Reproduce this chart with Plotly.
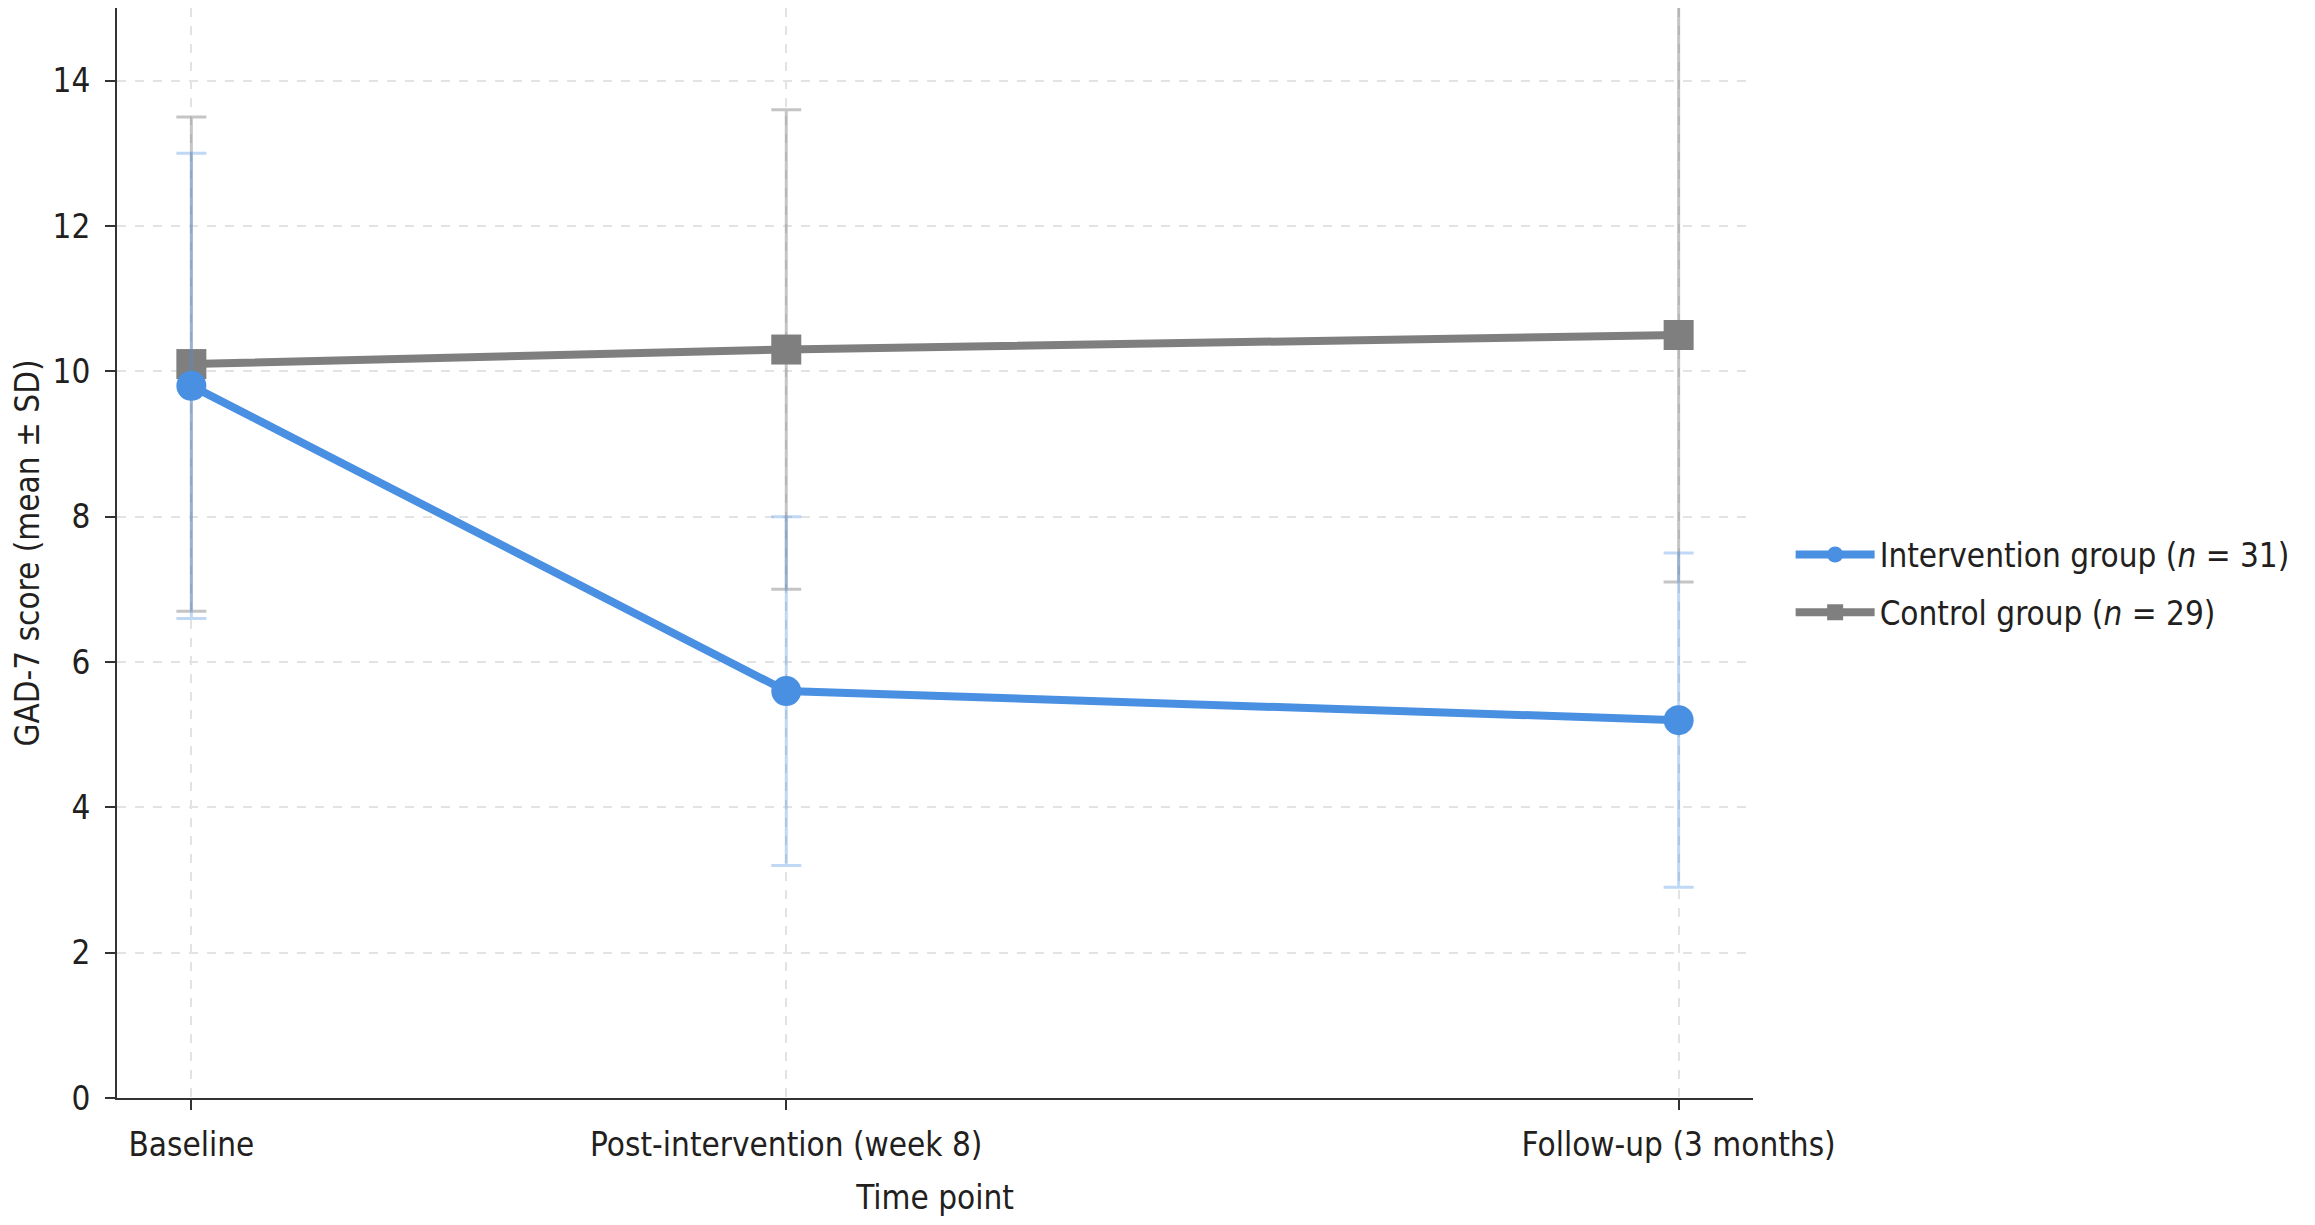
import plotly.graph_objects as go

# time points (weeks from baseline) and their labels
weeks = [0, 8, 20]
time_labels = ["Baseline", "Post-intervention (week 8)", "Follow-up (3 months)"]

# GAD-7 mean and SD per group
interv_mean = [9.8, 5.6, 5.2]
interv_sd = [3.2, 2.4, 2.3]

control_mean = [10.1, 10.3, 10.5]
control_sd_plus = [3.4, 3.3, 4.9]
control_sd_minus = [3.4, 3.3, 3.4]

BLUE = "#4a90e2"
GREY = "#7f7f7f"
TEXT = "#231f20"
FONT = "DejaVu Sans Condensed, DejaVu Sans"
FS = 33

fig = go.Figure()

fig.add_trace(go.Scatter(
    x=weeks, y=control_mean,
    mode="lines+markers",
    name="Control group (<i>n</i> = 29)",
    legendgroup="control", legendrank=2,
    line=dict(color=GREY, width=8),
    marker=dict(symbol="square", size=30, color=GREY),
    error_y=dict(type="data", symmetric=False,
                 array=control_sd_plus, arrayminus=control_sd_minus,
                 color="rgba(127,127,127,0.45)", thickness=3, width=15),
))

fig.add_trace(go.Scatter(
    x=weeks, y=interv_mean,
    mode="lines+markers",
    name="Intervention group (<i>n</i> = 31)",
    legendgroup="intervention", legendrank=1,
    line=dict(color=BLUE, width=8),
    marker=dict(symbol="circle", size=30, color=BLUE),
    error_y=dict(type="data", array=interv_sd,
                 color="rgba(74,144,226,0.35)", thickness=3, width=15),
))

# page body keeps a default 8px margin, so the figure is sized to fit inside it
fig.update_layout(
    width=2299, height=1209,
    margin=dict(l=101, r=554, t=0, b=119),
    paper_bgcolor="white", plot_bgcolor="white",
    font=dict(family=FONT, size=FS, color=TEXT),
    legend=dict(x=1.023, y=0.472, xanchor="left", yanchor="middle",
                traceorder="grouped", font=dict(size=FS),
                itemwidth=79, tracegroupgap=12,
                bgcolor="rgba(0,0,0,0)"),
    showlegend=True,
)

fig.update_xaxes(
    range=[-1, 21],
    tickvals=weeks, ticktext=time_labels,
    tickfont=dict(size=FS),
    ticklabelstandoff=6,
    showline=True, linecolor="#333333", linewidth=2,
    ticks="outside", ticklen=10, tickwidth=2, tickcolor="#333333",
    showgrid=True, gridcolor="#e3e3e3", griddash="dash", gridwidth=2,
    zeroline=False,
    title=dict(text="Time point", font=dict(size=FS), standoff=26),
)

fig.update_yaxes(
    range=[0, 15],
    tickvals=[0, 2, 4, 6, 8, 10, 12, 14],
    tickfont=dict(size=FS),
    ticklabelstandoff=8,
    showline=True, linecolor="#333333", linewidth=2,
    ticks="outside", ticklen=10, tickwidth=2, tickcolor="#333333",
    showgrid=True, gridcolor="#e3e3e3", griddash="dash", gridwidth=2,
    zeroline=False,
    title=dict(text="GAD-7 score (mean ± SD)", font=dict(size=FS), standoff=22),
)

fig.write_html("out.html")
